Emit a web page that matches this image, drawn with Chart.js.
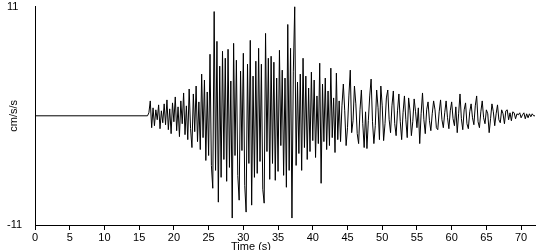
<!DOCTYPE html>
<html>
<head>
<meta charset="utf-8">
<script src="https://cdn.jsdelivr.net/npm/chart.js@4"></script>
<style>
  html, body { margin: 0; padding: 0; background: #fff; }
  #wrap { width: 550px; height: 250px; position: relative; }
</style>
</head>
<body>
<div id="wrap"><canvas id="accChart"></canvas></div>
<script>
// ── Record data ──
// quiet part before the first arrival
const quietTimes  = [0, 16.2];
const quietValues = [0, 0];

// strong motion part, sampled every 0.2 s from 16.4 s (cm/s/s)
const recStart = 16.4;
const recStep  = 0.2;
const recValues = [
    0.3, 1.5, -1.2,
    0.8, -1.0, 0.6, -0.4, 1.1,      // 17
    -1.3, 0.5, -0.7, 1.2, -0.9,     // 18
    1.6, -1.4, 0.7, -1.8, 1.3,      // 19
    -0.6, 1.9, -1.5, 0.9, -2.1,     // 20
    1.5, -0.8, 2.3, -1.9, 1.0,      // 21
    -2.4, 2.7, -1.3, -3.2, 2.2,     // 22
    -1.6, 3.0, -2.6, 1.4, -3.4,     // 23
    4.2, -2.2, 3.6, -4.5, 2.4,      // 24
    -4.0, 6.2, -5.0, -7.3, 10.5,    // 25
    -5.5, 7.5, -8.7, 5.0, -6.2,     // 26
    6.5, -4.4, 5.8, -6.6, 6.7,      // 27
    -5.2, 3.5, -10.3, 7.3, -4.0,    // 28
    5.6, -6.0, -8.5, 4.5, -3.5,     // 29
    6.3, -7.0, -9.7, 5.2, -4.8,     // 30
    7.6, -9.0, 4.0, -6.2, 5.5,      // 31
    -5.8, 6.8, -4.6, 5.2, -7.4,     // 32
    -8.8, 8.3, -3.6, 5.8, -6.4,     // 33
    6.0, -4.8, 5.4, -6.5, 3.8,      // 34
    -5.6, 6.6, -3.0, 4.6, -6.0,     // 35
    3.8, -7.2, 9.2, -5.5, 6.8,      // 36
    -10.3, 4.5, 11.0, -5.0, 3.4,    // 37
    -3.8, 4.2, -5.5, 5.8, -3.2,     // 38
    4.0, -4.4, 2.8, -3.6, 4.4,      // 39
    -2.5, 3.6, -4.2, 2.0, -2.8,     // 40
    5.3, -6.8, 3.2, -2.6, 3.8,      // 41
    -3.4, 2.5, -3.0, 4.8, -2.2,     // 42
    1.8, -3.7, 4.3, -2.4, 1.5,      // 43
    -2.6, 1.0, 3.2, 0.5, -3.0,      // 44
    -1.2, 2.0, 4.6, -1.7, -0.5,     // 45
    3.0, 1.2, -1.8, -2.8, 0.6,      // 46
    2.6, -0.8, -3.2, 0.4, -3.3,     // 47
    -0.5, 2.0, 3.7, -0.6, -2.8,     // 48
    -1.0, 2.6, 0.8, -2.4, 3.0,      // 49
    1.0, -2.5, -0.8, 1.8, 2.6,      // 50
    -0.4, -1.7, 1.0, 2.5, -0.8,     // 51
    -2.0, 0.5, 2.2, -0.6, -2.4,     // 52
    0.3, 2.0, -0.4, -2.2, 1.8,      // 53
    0.5, -2.0, -0.6, 1.7, 0.4,      // 54
    -1.2, 0.8, -2.8, 0.2, 2.3,      // 55
    -0.4, -1.8, 0.6, 1.4, -0.5,     // 56
    -1.5, 0.2, 1.5, 0.6, -1.2,      // 57
    -1.4, 0.4, 1.6, -0.4, -1.2,     // 58
    0.3, 1.5, -0.2, -1.3, 0.5,      // 59
    1.4, -0.3, -1.0, 0.9, -1.7,     // 60
    0.2, 2.2, -0.3, -1.4, 0.6,      // 61
    1.3, -0.8, -1.3, 0.4, 1.2,      // 62
    -0.2, -0.9, 1.0, 2.0, -0.6,     // 63
    -1.2, 0.4, 1.5, -0.2, -0.8,     // 64
    0.6, 0.2, -1.7, -0.3, 1.2,      // 65
    0.4, -1.0, 0.2, 1.1, -0.4,      // 66
    -0.7, 0.6, 0.2, -0.8, 0.5,      // 67
    0.6, -0.4, 0.3, -0.5, 0.4,      // 68
    0.3, -0.3, 0.2, 0.1, 0.3,       // 69
    -0.2, 0.1, 0.3, -0.3, 0.2,      // 70
    -0.2, 0.2, -0.1, 0.2, 0.0,      // 71
    0.0                             // 72
];

const xTicks = [0, 5, 10, 15, 20, 25, 30, 35, 40, 45, 50, 55, 60, 65, 70];
const yTicks = [-11, 11];

// ── Build points ──
const points = quietTimes.map((t, i) => ({ x: t, y: quietValues[i] }))
    .concat(recValues.map((v, i) => ({ x: +(recStart + i * recStep).toFixed(2), y: v })));

const font = { family: '"Liberation Sans", Arial, sans-serif', size: 11 };

// x title sits left of centre in the original, so draw it by hand
const xTitle = {
    id: 'xTitle',
    afterDraw(chart) {
        const c = chart.ctx;
        c.save();
        c.font = '11px "Liberation Sans", Arial, sans-serif';
        c.fillStyle = '#000';
        c.textAlign = 'center';
        c.textBaseline = 'middle';
        c.fillText('Time (s)', 251, 247);
        c.restore();
    }
};

// ── Build Chart ──
const ctx = document.getElementById('accChart').getContext('2d');
new Chart(ctx, {
    type: 'line',
    data: {
        datasets: [{
            data: points,
            borderColor: '#000',
            borderWidth: 1,
            pointRadius: 0,
            tension: 0,
            fill: false
        }]
    },
    options: {
        responsive: true,
        maintainAspectRatio: false,
        animation: false,
        events: [],
        plugins: {
            legend: { display: false },
            tooltip: { enabled: false }
        },
        layout: { padding: { left: 7, right: 15, top: 5, bottom: 0 } },
        scales: {
            x: {
                type: 'linear',
                min: 0,
                max: 72,
                afterBuildTicks: s => { s.ticks = xTicks.map(v => ({ value: v })); },
                ticks: { color: '#000', font: font, padding: 1, maxRotation: 0, autoSkip: false },
                grid: { display: true, drawOnChartArea: false, tickLength: 5, color: '#000' },
                border: { display: true, color: '#000', width: 1 },
                afterFit: s => { s.height = 25; }
            },
            y: {
                min: -11,
                max: 11,
                afterBuildTicks: s => { s.ticks = yTicks.map(v => ({ value: v })); },
                ticks: { color: '#000', font: font, crossAlign: 'far', padding: 0 },
                grid: { display: false },
                border: { display: true, color: '#000', width: 1 },
                title: { display: true, text: 'cm/s/s', color: '#000', font: font, padding: { top: 0, bottom: 0 } },
                afterFit: s => { s.width = 28; }
            }
        }
    },
    plugins: [xTitle]
});
</script>
</body>
</html>
